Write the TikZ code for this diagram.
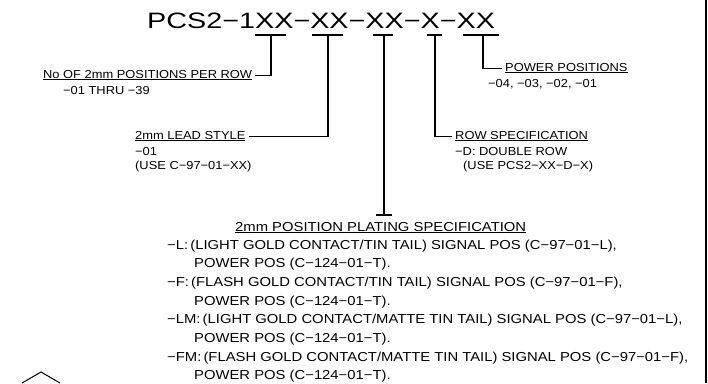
\documentclass[tikz,border=0pt]{standalone}
\usepackage{fontspec}
\setmainfont{Liberation Sans}
\newfontfamily\cadtitle[FakeStretch=1.29]{Liberation Sans}
\newfontfamily\cadsmall[FakeStretch=1.11]{Liberation Sans}
\newfontfamily\cadspec[FakeStretch=1.14]{Liberation Sans}
\begin{document}
\begin{tikzpicture}[x=1pt, y=-1pt,
  pnum/.style={inner sep=0pt, anchor=base west, font=\cadtitle\fontsize{22.3}{24}\selectfont},
  lbl/.style={inner sep=0pt, anchor=base west, align=left, font=\cadsmall\fontsize{11.6}{14.5}\selectfont},
  spec/.style={lbl, font=\cadspec\fontsize{13}{18.7}\selectfont},
  field/.style={line width=1.8pt},
  leader/.style={line width=1.2pt},
]
\useasboundingbox (0,0) rectangle (708,383);

% part number and the field underlines
\node[pnum] (pn) at (147,28) {PCS2−1XX−XX−XX−X−XX};
\foreach \name/\xa/\xb/\xs in {qty/255/286/271, lead/312/343/328, plate/373/393/384, row/427/442/435, pwr/463/499/483} {
  \draw[field] (\xa,35) -- (\xb,35);
  \coordinate (\name) at (\xs,35);
}

% positions per row
\node[lbl] (qtyhd) at (43,78) {\underline{No OF 2mm POSITIONS PER ROW}};
\node[lbl] (qtyval) at (63,94) {−01 THRU −39};
\draw[leader] (qty) |- ([xshift=3pt]qtyhd.mid east);

% lead style (base = last line)
\node[lbl] (leadhd) at (135,139) {\underline{2mm LEAD STYLE}};
\node[lbl] (leadval) at (135,169.5) {−01\\(USE C−97−01−XX)};
\draw[leader] (lead) |- ([xshift=3pt]leadhd.mid east);

% row specification
\node[lbl] (rowhd) at (455,139) {\underline{ROW SPECIFICATION}};
\node[lbl] (rowval) at (455,169.5) {−D: DOUBLE ROW\\\hspace*{8pt}(USE PCS2−XX−D−X)};
\draw[leader] (row) |- ([xshift=-3pt]rowhd.mid west);

% power positions
\node[lbl] (pwrhd) at (505,71) {\underline{POWER POSITIONS}};
\node[lbl] (pwrval) at (488,87) {−04, −03, −02, −01};
\draw[leader] (pwr) |- ([xshift=-3pt]pwrhd.mid west);

% plating specification
\coordinate (platebar) at (384,215);
\draw[leader] (plate) -- (platebar);
\draw[leader] ([xshift=-8pt]platebar) -- ([xshift=8pt]platebar);
\node[spec] (platehd) at (235,231) {\underline{2mm POSITION PLATING SPECIFICATION}};
\node[spec] (plateval) at (167,379.9) {%
  −L:\,(LIGHT GOLD CONTACT/TIN TAIL) SIGNAL POS (C−97−01−L),\\
  \hspace*{27pt}POWER POS (C−124−01−T).\\
  −F:\,(FLASH GOLD CONTACT/TIN TAIL) SIGNAL POS (C−97−01−F),\\
  \hspace*{27pt}POWER POS (C−124−01−T).\\
  −LM:\,(LIGHT GOLD CONTACT/MATTE TIN TAIL) SIGNAL POS (C−97−01−L),\\
  \hspace*{27pt}POWER POS (C−124−01−T).\\
  −FM:\,(FLASH GOLD CONTACT/MATTE TIN TAIL) SIGNAL POS (C−97−01−F),\\
  \hspace*{27pt}POWER POS (C−124−01−T).};

% sheet border and corner mark
\draw[line width=2.5pt] (706,0) -- (706,383);
\draw[line width=1pt] (22,383) -- (41,372) -- (60,383);
\end{tikzpicture}
\end{document}
